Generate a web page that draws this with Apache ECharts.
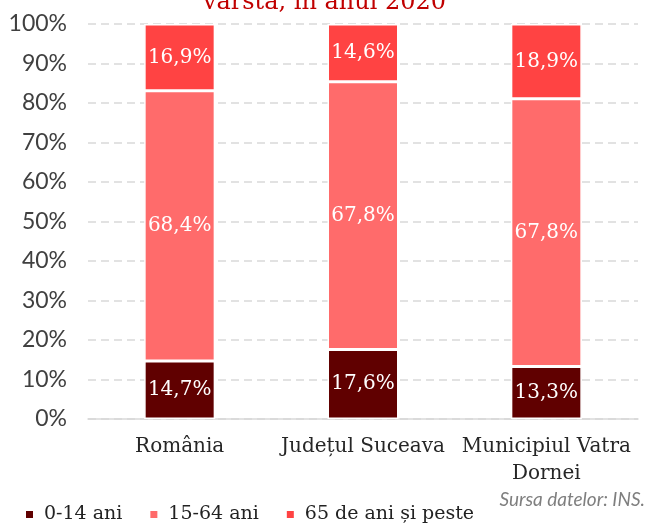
<!DOCTYPE html>
<html>
<head>
<meta charset="utf-8">
<script src="https://cdn.jsdelivr.net/npm/echarts@6/dist/echarts.min.js"></script>
<style>
  html, body { margin: 0; padding: 0; background: #fff; }
  #chart { width: 649px; height: 525px; }
</style>
</head>
<body>
<div id="chart"></div>
<script>
// date (procente)
var categories = ['România', 'Județul Suceava', 'Municipiul Vatra\nDornei']
var age0to14 = [14.7, 17.6, 13.3]
var age15to64 = [68.4, 67.8, 67.8]
var age65plus = [16.9, 14.6, 18.9]
var seriesNames = ['0-14 ani', '15-64 ani', '65 de ani și peste']
var seriesColors = ['#600000', '#ff6b6b', '#ff4343']

var serif = 'DejaVu Serif'

function makeSeries(name, data, color) {
  return {
    name: name,
    type: 'bar',
    stack: 'total',
    barWidth: 71,
    data: data,
    itemStyle: {
      color: color,
      borderColor: '#fff',
      borderWidth: 1.5
    },
    label: {
      show: true,
      position: 'inside',
      color: '#fff',
      fontFamily: serif,
      fontSize: 20,
      formatter: function(p) {
        return p.value.toFixed(1).replace('.', ',') + '%'
      }
    }
  }
}

var chart = echarts.init(document.getElementById('chart'))
var option = {
  animation: false,
  title: {
    text: 'vârstă, în anul 2020',
    left: 'center',
    top: -14,
    textStyle: {
      color: '#c00000',
      fontFamily: serif,
      fontSize: 24,
      fontWeight: 'normal'
    }
  },
  grid: {
    left: 88,
    right: 11,
    top: 24,
    bottom: 106
  },
  legend: {
    left: 19,
    bottom: -4,
    itemWidth: 9,
    itemHeight: 9,
    itemGap: 26,
    icon: 'rect',
    textStyle: {
      fontFamily: serif,
      fontSize: 19,
      color: '#222',
      padding: [0, 0, 0, 5]
    },
    data: seriesNames
  },
  graphic: [
    {
      type: 'text',
      right: 4,
      top: 490,
      style: {
        text: 'Sursa datelor: INS.',
        fill: '#7f7f7f',
        font: 'italic 19px Lato'
      }
    }
  ],
  xAxis: {
    type: 'category',
    data: categories,
    axisTick: { show: false },
    axisLine: { lineStyle: { color: '#d9d9d9', width: 1.5 } },
    axisLabel: {
      margin: 14,
      interval: 0,
      color: '#262626',
      fontFamily: serif,
      fontSize: 20,
      lineHeight: 27
    }
  },
  yAxis: {
    type: 'value',
    min: 0,
    max: 100,
    interval: 10,
    axisLabel: {
      margin: 21,
      color: '#404040',
      fontFamily: 'Lato',
      fontSize: 23,
      formatter: '{value}%'
    },
    splitLine: {
      lineStyle: { color: '#d9d9d9', width: 1.5, type: [8, 5] }
    }
  },
  series: [
    makeSeries(seriesNames[0], age0to14, seriesColors[0]),
    makeSeries(seriesNames[1], age15to64, seriesColors[1]),
    makeSeries(seriesNames[2], age65plus, seriesColors[2])
  ]
}
chart.setOption(option)
</script>
</body>
</html>
